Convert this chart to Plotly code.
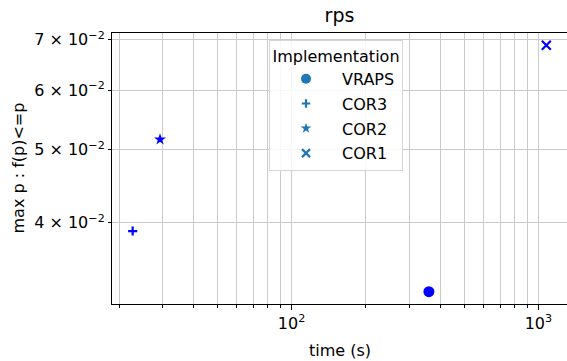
import numpy as np
import plotly.graph_objects as go

# ---- data ----
implementations = ["VRAPS", "COR3", "COR2", "COR1"]
times = [360.0, 22.7, 29.3, 1077.0]
max_p = [0.0324, 0.0390, 0.0516, 0.0688]
symbols = ["circle", "cross-thin", "star", "x-thin"]
sizes = [11, 6.5, 9, 9]
legend_sizes = [10, 6, 8, 8]

y_tick_vals = [0.04, 0.05, 0.06, 0.07]
y_tick_text = ["4 × 10<sup>−2</sup>", "5 × 10<sup>−2</sup>", "6 × 10<sup>−2</sup>", "7 × 10<sup>−2</sup>"]
x_major_vals = [100, 1000]
x_major_text = ["10<sup>2</sup>", "10<sup>3</sup>"]
x_minor_vals = [20, 30, 40, 50, 60, 70, 80, 90, 200, 300, 400, 500, 600, 700, 800, 900, 2000]

FONT = "DejaVu Sans"
GRID = "#cbcbcb"
L, R, T, B = 112, 567, 33, 304
W, H = 567, 361

fig = go.Figure()

for name, t, p, sym, sz, lsz in zip(implementations, times, max_p, symbols, sizes, legend_sizes):
    thin = "thin" in sym
    fig.add_trace(go.Scatter(
        x=[t], y=[p], mode="markers", name=name, showlegend=False,
        marker=dict(symbol=sym, size=sz, color="#0000ff",
                    line=dict(color="#0000ff", width=2.2 if thin else 0)),
    ))
    # legend handle in default colour
    fig.add_trace(go.Scatter(
        x=[None], y=[None], mode="markers", name=name, legendgroup=name,
        marker=dict(symbol=sym, size=lsz, color="#1f77b4",
                    line=dict(color="#1f77b4", width=2.2 if thin else 0)),
    ))

lx = np.log10(times)
ly = np.log10(max_p)
mx = 0.05 * (lx.max() - lx.min())
my = 0.05 * (ly.max() - ly.min())

pw, ph = R - L, B - T

fig.update_layout(
    width=W, height=H,
    margin=dict(l=L, r=W - R, t=T, b=H - B),
    paper_bgcolor="white", plot_bgcolor="white",
    font=dict(family=FONT, size=16, color="black"),
    title=dict(text="rps", x=0.5, xref="paper", xanchor="center",
               y=1 - 15 / H, yanchor="middle", font=dict(size=19)),
    legend=dict(
        x=(269 - L) / pw, y=(B - 40) / ph, xanchor="left", yanchor="top",
        bgcolor="rgba(255,255,255,0.85)", bordercolor="#d6d6d6", borderwidth=1,
        title=dict(text="Implementation", side="top center", font=dict(size=16)),
        font=dict(size=16), tracegroupgap=1, itemwidth=62,
    ),
    xaxis=dict(
        type="log", range=[lx.min() - mx, lx.max() + mx], automargin=False,
        tickmode="array", tickvals=x_major_vals, ticktext=x_major_text,
        ticks="outside", ticklen=5, tickcolor="black", tickwidth=1,
        showgrid=True, gridcolor=GRID, gridwidth=1,
        minor=dict(tickmode="array", tickvals=x_minor_vals, ticks="outside",
                   ticklen=3, tickcolor="black", showgrid=True, gridcolor=GRID, gridwidth=1),
        showline=True, linecolor="black", linewidth=1, mirror=True,
        zeroline=False,
    ),
    yaxis=dict(
        type="log", range=[ly.min() - my, ly.max() + my], automargin=False,
        tickmode="array", tickvals=y_tick_vals, ticktext=y_tick_text,
        ticks="outside", ticklen=3, tickcolor="black", tickwidth=1,
        showgrid=True, gridcolor=GRID, gridwidth=1,
        showline=True, linecolor="black", linewidth=1, mirror=True,
        zeroline=False,
    ),
    annotations=[
        dict(text="time (s)", xref="paper", yref="paper", x=0.5, y=(B - 350) / ph,
             xanchor="center", yanchor="middle", showarrow=False, font=dict(size=16)),
        dict(text="max p : f(p)<=p", xref="paper", yref="paper", x=(18 - L) / pw, y=0.5,
             xanchor="center", yanchor="middle", textangle=-90, showarrow=False,
             font=dict(size=16)),
    ],
)

fig.write_html("out.html", config={"displayModeBar": False},
               post_script="document.body.style.margin='0';")
